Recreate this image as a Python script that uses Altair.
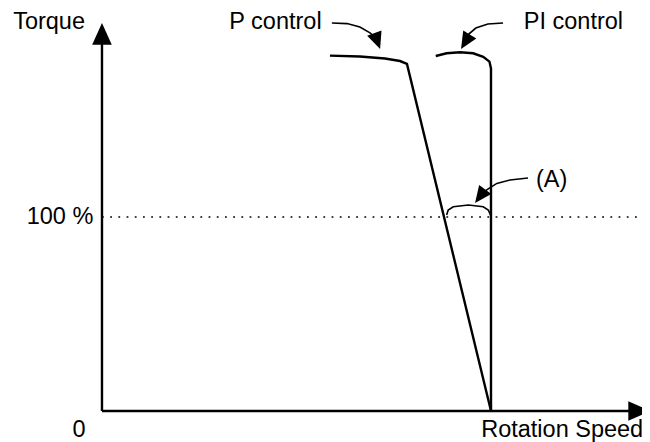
import altair as alt
import pandas as pd

# ---- data (speed: 100 = rated speed, torque: % of rated) ----
P_SPEED = [58.6, 66.3, 72.75, 76.6, 78.4, 100.0]
P_TORQUE = [183.2, 182.7, 181.7, 180.4, 178.9, 0.0]

PI_SPEED = [85.8, 88.6, 92.0, 95.4, 98.0, 99.6, 100.0, 100.0]
PI_TORQUE = [183.0, 184.4, 184.9, 184.4, 182.6, 180.1, 176.6, 0.0]

ARC_SPEED = [88.6, 89.0, 90.3, 94.2, 98.0, 99.3, 99.9]
ARC_TORQUE = [101.0, 103.6, 105.3, 106.2, 105.3, 103.6, 101.0]

REF_LEVEL = 100.0          # 100 % torque line
AXIS_X_END = 137.6         # end of speed axis line
AXIS_Y_END = 192.8         # end of torque axis line

P_ARROW_S = [59.1, 63.0, 66.3, 68.9, 70.7]
P_ARROW_T = [200.0, 199.7, 197.9, 194.9, 191.8]
PI_ARROW_S = [103.1, 99.2, 96.1, 94.3, 94.1]
PI_ARROW_T = [200.0, 199.5, 197.4, 194.3, 192.8]
A_ARROW_S = [109.5, 104.9, 101.5, 99.2, 98.2]
A_ARROW_T = [120.1, 119.1, 117.3, 114.4, 112.9]

HEAD_S = [71.5, 92.3, 95.9, 0.0, 140.9]
HEAD_T = [186.6, 186.6, 107.2, 200.0, 0.0]
HEAD_ANGLE = [160, 211, 217, 0, 90]
HEAD_KIND = ["curve", "curve", "curve", "axis", "axis"]

LABELS = ["Torque", "0", "Rotation Speed", "100 %", "P control", "PI control", "(A)"]
LABEL_S = [-13.6, -5.9, 118.3, -10.8, 44.6, 121.2, 115.6]
LABEL_T = [196.8, -13.6, -13.6, 96.2, 196.8, 196.8, 115.6]

X_DOMAIN = [-24.16, 138.82]
Y_DOMAIN = [-15.98, 207.73]


def line_df(s, t, name):
    return pd.DataFrame({"s": s, "t": t, "g": name, "i": list(range(len(s)))})


thick = pd.concat([
    line_df(P_SPEED, P_TORQUE, "P"),
    line_df(PI_SPEED, PI_TORQUE, "PI"),
    line_df([0, 0], [AXIS_Y_END, 0], "yaxis"),
    line_df([0, AXIS_X_END], [0, 0], "xaxis"),
])
thin = pd.concat([
    line_df(ARC_SPEED, ARC_TORQUE, "arc"),
    line_df(P_ARROW_S, P_ARROW_T, "pa"),
    line_df(PI_ARROW_S, PI_ARROW_T, "pia"),
    line_df(A_ARROW_S, A_ARROW_T, "aa"),
])
dotted = line_df([0, X_DOMAIN[1]], [REF_LEVEL, REF_LEVEL], "ref")
heads = pd.DataFrame({"s": HEAD_S, "t": HEAD_T, "angle": HEAD_ANGLE, "kind": HEAD_KIND})
heads["size"] = [1150 if k == "curve" else 1900 for k in HEAD_KIND]
labels = pd.DataFrame({"label": LABELS, "s": LABEL_S, "t": LABEL_T})

X = alt.X("s:Q", scale=alt.Scale(domain=X_DOMAIN, nice=False, zero=False), axis=None)
Y = alt.Y("t:Q", scale=alt.Scale(domain=Y_DOMAIN, nice=False, zero=False), axis=None)

thick_l = alt.Chart(thick).mark_line(color="black", strokeWidth=2.4).encode(
    x=X, y=Y, detail="g:N", order="i:Q")
thin_l = alt.Chart(thin).mark_line(color="black", strokeWidth=1.6).encode(
    x=X, y=Y, detail="g:N", order="i:Q")
dot_l = alt.Chart(dotted).mark_line(color="black", strokeWidth=1.5, strokeDash=[1.8, 6.4]).encode(
    x=X, y=Y, order="i:Q")
head_l = alt.Chart(heads).mark_point(
    shape="M0,0L0.45,1L-0.45,1Z", filled=True, color="black", opacity=1, strokeWidth=0
).encode(x=X, y=Y, angle=alt.Angle("angle:Q", scale=None), size=alt.Size("size:Q", scale=None))
text_l = alt.Chart(labels).mark_text(
    font="Liberation Sans", fontSize=23.5, color="black", align="center", baseline="alphabetic"
).encode(x=X, y=Y, text="label:N")

chart = alt.layer(dot_l, thick_l, thin_l, head_l, text_l).properties(
    width=634, height=434, padding=0,
    autosize=alt.AutoSizeParams(type="none"),
).configure_view(stroke=None)

chart.save("out.html", embed_options={"renderer": "svg", "actions": False})
